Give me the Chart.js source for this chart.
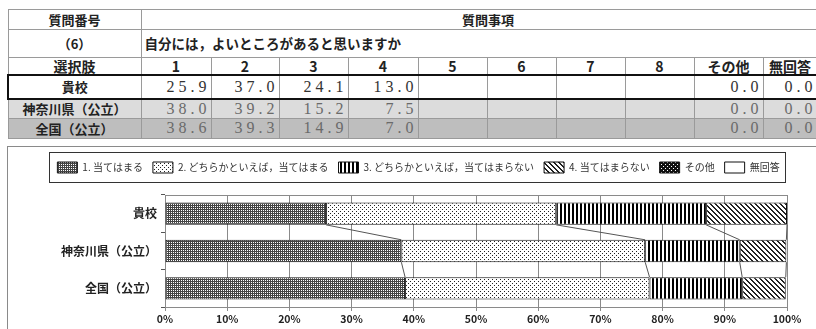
<!DOCTYPE html>
<html lang="ja">
<head>
<meta charset="utf-8">
<script src="https://cdn.jsdelivr.net/npm/chart.js@4.4.0/dist/chart.umd.min.js"></script>
<style>
  html, body { margin: 0; padding: 0; background: #fff; width: 816px; height: 329px; overflow: hidden; }
  #tbl { position: absolute; left: 7px; top: 9px; border-collapse: collapse; table-layout: fixed; width: 809px; }
  #tbl td { border: 1px solid #9a9a9a; padding: 0; text-align: center; font: bold 13px "Noto Sans CJK JP", sans-serif; color: #222; white-space: nowrap; overflow: hidden; line-height: 1; }
  #tbl tr.r1 { height: 20px; }
  #tbl tr.r2 { height: 28px; }
  #tbl tr.r3 { height: 17px; }
  #tbl tr.r3 td { font-size: 14px; }
  #tbl tr.school { height: 24px; }
  #tbl tr.pref { height: 17px; }
  #tbl tr.nation { height: 20px; }
  #tbl td.h { padding-left: 18px; }
  #tbl td.q { text-align: left; padding-left: 3px; font-size: 13.5px; }
  #tbl td.v { text-align: right; font: 16px "Liberation Serif", serif; letter-spacing: 4px; color: #333; }
  #tbl tr.school td { border-top: 2px solid #111; border-bottom: 2px solid #111; }
  #tbl tr.school td.lab { border-left: 2px solid #111; }
  #tbl tr.pref td { background: #dcdcdc; }
  #tbl tr.nation td { background: #bebebe; }
  #tbl tr.pref td.v, #tbl tr.nation td.v { color: #6a6a6a; }
  #frame { position: absolute; left: 7px; top: 146px; width: 830px; height: 200px; border-left: 1px solid #8a8a8a; border-top: 1px solid #8a8a8a; }
  #chart { position: absolute; left: 0; top: 0; }
</style>
</head>
<body>
<table id="tbl"></table>
<div id="frame"><canvas id="chart" width="808" height="182"></canvas></div>
<script>
// データ
const categories = ['貴校', '神奈川県（公立）', '全国（公立）'];
const seriesLabels = ['1. 当てはまる', '2. どちらかといえば，当てはまる', '3. どちらかといえば，当てはまらない', '4. 当てはまらない', 'その他', '無回答'];
const ans1 = [25.9, 38.0, 38.6];
const ans2 = [37.0, 39.2, 39.3];
const ans3 = [24.1, 15.2, 14.9];
const ans4 = [13.0, 7.5, 7.0];
const ansOther = [0.0, 0.0, 0.0];
const ansNone = [0.0, 0.0, 0.0];
const choiceHeaders = ['1', '2', '3', '4', '5', '6', '7', '8', 'その他', '無回答'];
const xTicks = [0, 10, 20, 30, 40, 50, 60, 70, 80, 90, 100];
const questionNo = '（6）';
const questionText = '自分には，よいところがあると思いますか';

function buildTable() {
    const tbl = document.getElementById('tbl');
    const colWidths = [133, 70, 68, 69, 70, 69, 69, 69, 69, 69, 54];
    let html = '<colgroup>' + colWidths.map(w => `<col style="width:${w}px">`).join('') + '</colgroup>';
    html += `<tr class="r1"><td>質問番号</td><td colspan="10" class="h">質問事項</td></tr>`;
    html += `<tr class="r2"><td>${questionNo}</td><td colspan="10" class="q">${questionText}</td></tr>`;
    html += `<tr class="r3"><td>選択肢</td>${choiceHeaders.map(h => `<td>${h}</td>`).join('')}</tr>`;
    const rowClasses = ['school', 'pref', 'nation'];
    categories.forEach((c, i) => {
        const vals = [ans1[i], ans2[i], ans3[i], ans4[i], null, null, null, null, ansOther[i], ansNone[i]];
        html += `<tr class="${rowClasses[i]}"><td class="lab">${c}</td>` +
            vals.map(v => `<td class="v">${v === null ? '' : v.toFixed(1)}</td>`).join('') + '</tr>';
    });
    tbl.innerHTML = html;
}

// 塗りつぶしパターン
function makePattern(kind) {
    const c = document.createElement('canvas');
    const g = c.getContext('2d');
    if (kind === 'dark') {
        c.width = 4; c.height = 4;
        g.fillStyle = '#444'; g.fillRect(0, 0, 4, 4);
        g.fillStyle = '#fff';
        [[1, 1], [3, 3], [1, 3], [3, 1]].forEach(([x, y]) => g.fillRect(x, y, 1, 1));
    } else if (kind === 'dots') {
        c.width = 4; c.height = 4;
        g.fillStyle = '#fff'; g.fillRect(0, 0, 4, 4);
        g.fillStyle = '#222';
        g.fillRect(0, 0, 1, 1); g.fillRect(2, 2, 1, 1);
    } else if (kind === 'vert') {
        c.width = 4; c.height = 1;
        g.fillStyle = '#fff'; g.fillRect(0, 0, 4, 1);
        g.fillStyle = '#000'; g.fillRect(0, 0, 2, 1);
    } else if (kind === 'diag') {
        c.width = 5; c.height = 5;
        g.fillStyle = '#fff'; g.fillRect(0, 0, 5, 5);
        g.fillStyle = '#222';
        for (let y = 0; y < 5; y++) { g.fillRect(y % 5, y, 1, 1); g.fillRect((y + 1) % 5, y, 1, 1); }
    } else if (kind === 'black') {
        c.width = 4; c.height = 4;
        g.fillStyle = '#111'; g.fillRect(0, 0, 4, 4);
        g.fillStyle = '#fff';
        g.fillRect(1, 1, 1, 1); g.fillRect(3, 3, 1, 1);
    } else {
        c.width = 1; c.height = 1;
        g.fillStyle = '#fff'; g.fillRect(0, 0, 1, 1);
    }
    return g.createPattern(c, 'repeat');
}

// 凡例の枠と高さ・位置
const legendFrame = {
    id: 'legendFrame',
    beforeUpdate(chart) {
        const lg = chart.legend;
        if (lg && !lg._patched) {
            const fit = lg.fit;
            lg.fit = function () { fit.call(this); this.height = 43; };
            lg._patched = true;
        }
    },
    afterLayout(chart) {
        // 幅はそのまま、中心だけ右へずらす（元図の枠位置）
        const lg = chart.legend;
        const delta = 410.5 - (lg.left + lg.right) / 2;
        lg.left += delta;
        lg.right += delta;
        (lg.legendHitBoxes || []).forEach(b => { b.left += delta; });
    },
    afterDraw(chart) {
        const boxes = chart.legend.legendHitBoxes;
        if (!boxes || !boxes.length) return;
        const left = Math.min(...boxes.map(b => b.left)) - 8;
        const right = Math.max(...boxes.map(b => b.left + b.width)) + 6;
        const top = boxes[0].top - 10;
        const bottom = boxes[0].top + boxes[0].height + 9;
        const ctx = chart.ctx;
        ctx.save();
        ctx.strokeStyle = '#333';
        ctx.lineWidth = 1;
        ctx.strokeRect(Math.round(left) + 0.5, Math.round(top) + 0.5, Math.round(right - left), Math.round(bottom - top));
        ctx.restore();
    }
};

// プロットエリア枠
const plotBorder = {
    id: 'plotBorder',
    beforeDatasetsDraw(chart) {
        const a = chart.chartArea;
        const ctx = chart.ctx;
        ctx.save();
        ctx.strokeStyle = '#8a8a8a';
        ctx.lineWidth = 1;
        ctx.strokeRect(a.left + 0.5, a.top + 0.5, a.right - a.left, a.bottom - a.top);
        ctx.restore();
    }
};

// 区分線
const seriesLines = {
    id: 'seriesLines',
    afterDatasetsDraw(chart) {
        const ctx = chart.ctx;
        ctx.save();
        ctx.strokeStyle = '#555';
        ctx.lineWidth = 1;
        for (let d = 0; d < 4; d++) {
            const bars = chart.getDatasetMeta(d).data;
            for (let i = 0; i < bars.length - 1; i++) {
                const a = bars[i], b = bars[i + 1];
                ctx.beginPath();
                ctx.moveTo(a.x, a.y + a.height / 2);
                ctx.lineTo(b.x, b.y - b.height / 2);
                ctx.stroke();
            }
        }
        ctx.restore();
    }
};

document.addEventListener('DOMContentLoaded', () => {
    buildTable();

    const seriesValues = [ans1, ans2, ans3, ans4, ansOther, ansNone];
    const patterns = ['dark', 'dots', 'vert', 'diag', 'black', 'white'].map(makePattern);

    const ctx = document.getElementById('chart').getContext('2d');
    new Chart(ctx, {
        type: 'bar',
        data: {
            labels: categories,
            datasets: seriesValues.map((vals, i) => ({
                label: seriesLabels[i],
                data: vals,
                backgroundColor: patterns[i],
                borderColor: '#111',
                borderWidth: 1,
                borderSkipped: false,
                barPercentage: 0.6,
                categoryPercentage: 1
            }))
        },
        options: {
            indexAxis: 'y',
            responsive: false,
            animation: false,
            layout: { padding: { top: 5, right: 29, bottom: 0, left: 0 } },
            plugins: {
                legend: {
                    position: 'top',
                    align: 'center',
                    labels: {
                        boxWidth: 20,
                        boxHeight: 11,
                        padding: 10,
                        color: '#333',
                        font: { family: '"Noto Sans CJK JP", sans-serif', size: 10 }
                    }
                },
                tooltip: { enabled: false }
            },
            scales: {
                x: {
                    stacked: true,
                    min: 0,
                    max: 100,
                    afterBuildTicks: s => { s.ticks = xTicks.map(v => ({ value: v })); },
                    afterFit: s => { s.height = 22; },
                    grid: { color: '#8a8a8a', tickLength: 4 },
                    border: { color: '#555' },
                    ticks: {
                        callback: v => v + '%',
                        color: '#222',
                        padding: 2,
                        maxRotation: 0,
                        font: { family: '"Noto Sans CJK JP", sans-serif', size: 10.5, weight: 'bold' }
                    }
                },
                y: {
                    stacked: true,
                    afterFit: s => { s.width = 157; },
                    grid: { display: true, drawOnChartArea: false, tickLength: 4, color: '#555' },
                    border: { color: '#555' },
                    ticks: {
                        color: '#222',
                        padding: 4,
                        font: { family: '"Noto Sans CJK JP", sans-serif', size: 12, weight: 'bold' }
                    }
                }
            }
        },
        plugins: [legendFrame, plotBorder, seriesLines]
    });
});
</script>
</body>
</html>
